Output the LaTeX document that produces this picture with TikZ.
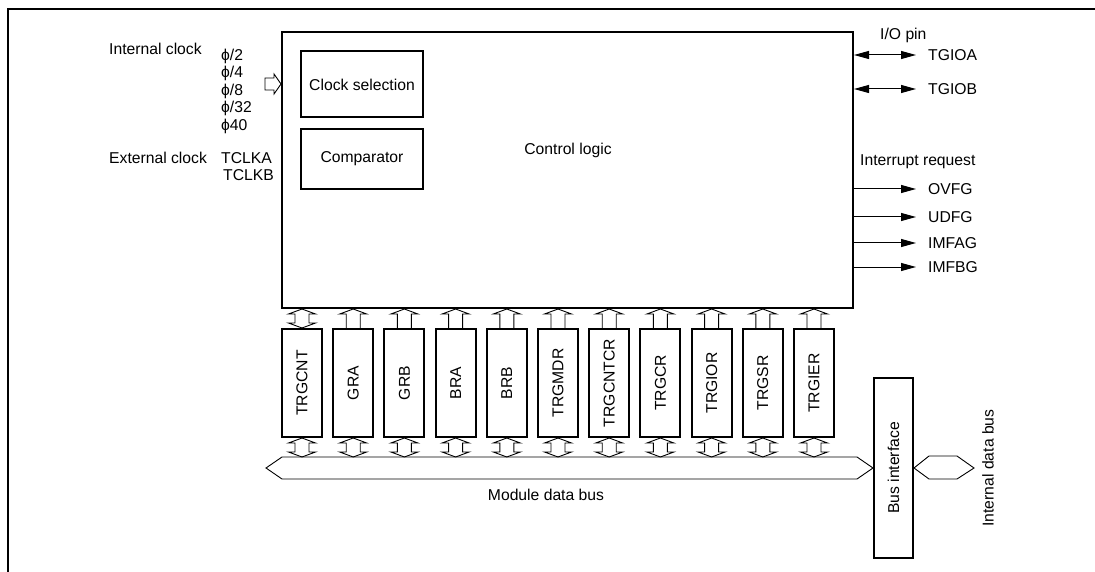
\documentclass[tikz,border=0pt]{standalone}
\usepackage{fontspec}
\setmainfont{Liberation Sans}
\usetikzlibrary{arrows.meta,calc}
\newcommand{\upArr}[2]{\draw[hollow] let \p1=(#1), \p2=(#2) in
 (\x1-7pt,\y1) -- (\x1-7pt,\y2-5pt) -- (\x1-13.5pt,\y2-5pt) -- (\x1,\y2) -- (\x1+13.5pt,\y2-5pt) -- (\x1+7pt,\y2-5pt) -- (\x1+7pt,\y1);}
\newcommand{\dblArr}[2]{\draw[hollow] let \p1=(#1), \p2=(#2) in
 (\x1,\y1) -- (\x1-13.5pt,\y1+5pt) -- (\x1-7pt,\y1+5pt) -- (\x1-7pt,\y2-5pt) -- (\x1-13.5pt,\y2-5pt) -- (\x1,\y2) -- (\x1+13.5pt,\y2-5pt) -- (\x1+7pt,\y2-5pt) -- (\x1+7pt,\y1+5pt) -- (\x1+13.5pt,\y1+5pt) -- cycle;}
\begin{document}
\begin{tikzpicture}[x=1pt,y=-1pt,
  every node/.style={font=\fontsize{15.7}{18}\selectfont, inner sep=0pt},
  box/.style={draw, line width=2pt},
  reg/.style={draw, line width=2pt, minimum width=40pt, minimum height=108pt},
  hollow/.style={draw, line width=0.9pt, line join=miter},
  sig/.style={line width=1pt, -{Triangle[length=15pt,width=8pt]}},
  sig2/.style={line width=1pt, {Triangle[length=15pt,width=8pt]}-{Triangle[length=15pt,width=8pt]}},
  lbl/.style={anchor=west},
  pin/.style={anchor=west, inner xsep=12pt},
]
\useasboundingbox (0,0) rectangle (1095,572);
% open frame
\draw[line width=2pt] (1095,9) -- (8,9) -- (8,572);

% main block
\node[box, minimum width=571pt, minimum height=276pt] (main) at (567.5,170) {};
\node (ctl) at (568,150) {Control logic};
\node[box, minimum width=122pt, minimum height=66pt] (clk) at (362,84.5) {Clock selection};
\node[box, minimum width=122pt, minimum height=60pt] (cmp) at (362,159) {Comparator};

% left labels
\node[lbl] (ic) at (109,49) {Internal clock};
\node[lbl] (p2) at (221,56) {ϕ/2};
\node[lbl] (p4) at (221,73) {ϕ/4};
\node[lbl] (p8) at (221,91) {ϕ/8};
\node[lbl] (p32) at (221,108) {ϕ/32};
\node[lbl] (p40) at (221,126) {ϕ40};
\node[lbl] (ec) at (109,158) {External clock};
\node[lbl] (ta) at (221,158) {TCLKA};
\node[lbl] (tb) at (223,175) {TCLKB};

% clock input arrow
\coordinate (inY) at (0,84);
\draw[hollow] (main.west |- inY) -- ++(-7,-10) -- ++(0,4) -- ++(-9,0) -- ++(0,12) -- ++(9,0) -- ++(0,4) -- cycle;

% right labels
\node[lbl] (io) at (880,35) {I/O pin};
\node[pin] (tgioa) at (916,55) {TGIOA};
\node[pin] (tgiob) at (916,89) {TGIOB};
\draw[sig2] (main.east |- tgioa) -- (tgioa.west);
\draw[sig2] (main.east |- tgiob) -- (tgiob.west);
\node[lbl] (irq) at (860,162) {Interrupt request};
\node[pin] (ovfg) at (916,189) {OVFG};
\node[pin] (udfg) at (916,217) {UDFG};
\node[pin] (imfag) at (916,243) {IMFAG};
\node[pin] (imfbg) at (916,267) {IMFBG};
\foreach \t in {ovfg,udfg,imfag,imfbg}
  \draw[sig] (main.east |- \t) -- (\t.west);

% registers
\foreach \n [count=\i from 0] in {TRGCNT,GRA,GRB,BRA,BRB,TRGMDR,TRGCNTCR,TRGCR,TRGIOR,TRGSR,TRGIER}
  \node[reg] (r\i) at ({302+51.2*\i},383) {\rotatebox{90}{\n}};

% bus interface
\node[box, minimum width=39pt, minimum height=180pt] (bif) at (893.5,468) {\rotatebox{90}{Bus interface}};

% module data bus
\draw[hollow] (bif.west) -- ++(-16,-11) -- (282,457) -- (266,468) -- (282,479) -- ($(bif.west)+(-16,11)$) -- cycle;
\coordinate (busN) at (570,457);
\node (mdb) at (546,495) {Module data bus};

% internal data bus
\draw[hollow] (bif.east) -- ++(15,-12) -- ++(28,0) -- ++(17,12) -- ++(-17,11) -- ++(-28,0) -- cycle;
\node (idb) at (988,468) {\rotatebox{90}{Internal data bus}};

% register arrows
\dblArr{r0.north}{r0.north |- main.south}
\foreach \i in {1,...,10} {\upArr{r\i.north}{r\i.north |- main.south}}
\foreach \i in {0,...,10} {\dblArr{r\i.south |- busN}{r\i.south}}
\end{tikzpicture}
\end{document}
